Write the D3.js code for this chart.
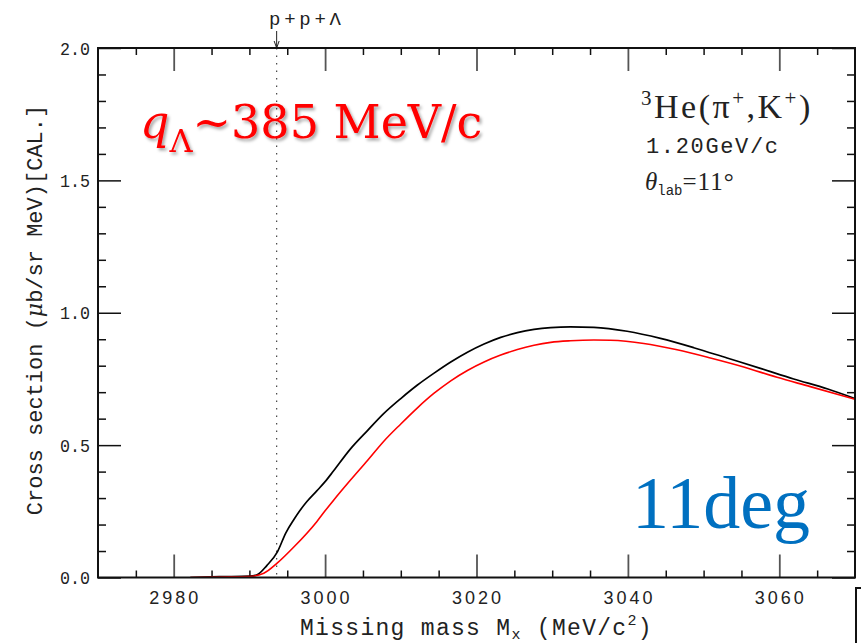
<!DOCTYPE html>
<html><head><meta charset="utf-8">
<script src="https://cdn.jsdelivr.net/npm/d3@7"></script>
<style>
html,body{margin:0;padding:0;background:#fff;}
svg{display:block;}
</style></head>
<body>
<svg id="chart" width="861" height="643"></svg>
<script>
// ---- data ----
const blackMass  = [2982.2, 2986, 2990, 2991.0, 2992.3, 2993.7, 2994.8, 2995.9, 2996.7, 2997.6, 2998.9, 3000.0, 3001.1, 3003.3, 3005.6, 3007.7, 3010.0, 3012.2, 3014.4, 3016.6, 3018.8, 3021.0, 3023.2, 3025.4, 3027.6, 3029.8, 3032.4, 3035.5, 3039.9, 3044.3, 3048.7, 3053.1, 3057.5, 3061.9, 3066.4, 3070];
const blackSigma = [0.000, 0.003, 0.005, 0.010, 0.045, 0.097, 0.168, 0.220, 0.254, 0.287, 0.327, 0.362, 0.402, 0.484, 0.555, 0.618, 0.676, 0.727, 0.772, 0.814, 0.851, 0.882, 0.907, 0.925, 0.937, 0.944, 0.947, 0.945, 0.930, 0.903, 0.868, 0.829, 0.790, 0.750, 0.712, 0.676];
const redMass    = [2982.2, 2986, 2990, 2991.9, 2993.7, 2995.9, 2998.9, 3000.0, 3001.1, 3003.3, 3005.6, 3007.7, 3010.0, 3012.2, 3014.4, 3016.6, 3018.8, 3021.0, 3023.2, 3025.4, 3027.6, 3029.8, 3032.4, 3035.5, 3037.7, 3042.1, 3046.5, 3050.9, 3055.3, 3059.7, 3064.1, 3070];
const redSigma   = [0.000, 0.002, 0.004, 0.016, 0.055, 0.116, 0.211, 0.252, 0.291, 0.366, 0.442, 0.513, 0.580, 0.641, 0.696, 0.743, 0.782, 0.814, 0.840, 0.861, 0.877, 0.888, 0.894, 0.897, 0.896, 0.884, 0.860, 0.829, 0.795, 0.756, 0.721, 0.673];
const xMajorTicks = [2980, 3000, 3020, 3040, 3060];
const xMinorTicks = [2975, 2985, 2990, 2995, 3005, 3010, 3015, 3025, 3030, 3035, 3045, 3050, 3055, 3065];
const yMajorTicks = [0.0, 0.5, 1.0, 1.5, 2.0];
const yMinorTicks = [0.1,0.2,0.3,0.4,0.6,0.7,0.8,0.9,1.1,1.2,1.3,1.4,1.6,1.7,1.8,1.9];
const threshold = 2993.6;
const thresholdLabel = "p+p+Λ";

// ---- layout ----
const L = 98, R = 855, T = 48, B = 577.5;
const svg = d3.select("#chart");
const x = d3.scaleLinear().domain([2970, 3070]).range([L, R]);
const y = d3.scaleLinear().domain([0, 2]).range([B, T]);

const defs = svg.append("defs");
const f = defs.append("filter").attr("id","sh").attr("x","-10%").attr("y","-10%").attr("width","130%").attr("height","140%");
f.append("feDropShadow").attr("dx",2).attr("dy",2.5).attr("stdDeviation",1.5).attr("flood-color","#000").attr("flood-opacity",0.35);
defs.append("clipPath").attr("id","clip").append("rect").attr("x",L).attr("y",T).attr("width",R-L).attr("height",B-T);

const mono = "'Liberation Mono', 'DejaVu Sans Mono', monospace";

function tickGroup(axisFn, scale, vals, size, tr, color, w) {
  const g = svg.append("g").attr("transform", tr)
    .call(axisFn(scale).tickValues(vals).tickSize(size).tickFormat(""));
  g.select(".domain").remove();
  g.selectAll(".tick line").attr("stroke", color).attr("stroke-width", w);
  return g;
}
tickGroup(d3.axisBottom, x, xMinorTicks, -7, `translate(0,${B})`, "#111", 1.5);
tickGroup(d3.axisTop, x, xMinorTicks, -7, `translate(0,${T})`, "#111", 1.5);
tickGroup(d3.axisBottom, x, xMajorTicks, -23, `translate(0,${B})`, "#555", 1.8);
tickGroup(d3.axisTop, x, xMajorTicks, -23, `translate(0,${T})`, "#555", 1.8);
tickGroup(d3.axisLeft, y, yMinorTicks, -8, `translate(${L},0)`, "#111", 1.5);
tickGroup(d3.axisRight, y, yMinorTicks, -8, `translate(${R},0)`, "#111", 1.5);
tickGroup(d3.axisLeft, y, yMajorTicks, -23, `translate(${L},0)`, "#111", 1.5);
tickGroup(d3.axisRight, y, yMajorTicks, -23, `translate(${R},0)`, "#111", 1.5);

// tick labels
svg.append("g").selectAll("text").data(xMajorTicks).join("text")
  .attr("x", d => x(d)).attr("y", 604).attr("text-anchor","middle")
  .attr("font-family","'Liberation Sans', Arial, sans-serif").attr("font-size",18)
  .attr("textLength",49).attr("lengthAdjust","spacing")
  .attr("fill","#222").text(d => d);
svg.append("g").selectAll("text").data(yMajorTicks).join("text")
  .attr("x", 90).attr("y", d => y(d) + 6.5).attr("text-anchor","end")
  .attr("font-family",mono).attr("font-size",19)
  .attr("textLength",30).attr("lengthAdjust","spacingAndGlyphs")
  .attr("fill","#222").text(d => d.toFixed(1));

// threshold line
svg.append("line").attr("x1",x(threshold)).attr("x2",x(threshold)).attr("y1",T).attr("y2",B)
  .attr("stroke","#444").attr("stroke-width",1.2).attr("stroke-dasharray","1.5,6");
svg.append("line").attr("x1",x(threshold)).attr("x2",x(threshold)).attr("y1",31).attr("y2",T)
  .attr("stroke","#222").attr("stroke-width",1);
svg.append("path").attr("d",`M${x(threshold)-2.5},${T-7} L${x(threshold)},${T} L${x(threshold)+2.5},${T-7}`)
  .attr("fill","none").attr("stroke","#222").attr("stroke-width",1);
svg.append("text").attr("x",269).attr("y",25).attr("font-family",mono).attr("font-size",19)
  .attr("textLength",72).attr("lengthAdjust","spacing").attr("fill","#222").text(thresholdLabel);

// curves
const line = d3.line().x(d => x(d[0])).y(d => y(d[1])).curve(d3.curveMonotoneX);
const gc = svg.append("g").attr("clip-path","url(#clip)");
gc.append("path").datum(d3.zip(blackMass, blackSigma)).attr("d",line)
  .attr("fill","none").attr("stroke","#000").attr("stroke-width",1.7);
gc.append("path").datum(d3.zip(redMass, redSigma)).attr("d",line)
  .attr("fill","none").attr("stroke","#ff0000").attr("stroke-width",1.6);

// frame
svg.append("rect").attr("x",L).attr("y",T).attr("width",R-L).attr("height",B-T)
  .attr("fill","none").attr("stroke","#111").attr("stroke-width",2);

// bracket artifact bottom-right
svg.append("path").attr("d","M861,588 L856,588 L856,643").attr("fill","none").attr("stroke","#111").attr("stroke-width",2);

// axis titles
const xt = svg.append("text").attr("x",300).attr("y",635).attr("font-family",mono).attr("font-size",23)
  .attr("letter-spacing",1.3).attr("fill","#222");
xt.append("tspan").text("Missing mass M");
xt.append("tspan").attr("dy",4).attr("font-size",15).text("x");
xt.append("tspan").attr("dy",-4).text(" (MeV/c");
xt.append("tspan").attr("dy",-10).attr("font-size",15).text("2");
xt.append("tspan").attr("dy",10).text(")");

const yt = svg.append("text").attr("transform","translate(42,310) rotate(-90)").attr("text-anchor","middle")
  .attr("font-family",mono).attr("font-size",22).attr("fill","#222");
yt.append("tspan").text("Cross section (");
yt.append("tspan").attr("font-family","'DejaVu Serif', serif").attr("font-style","italic").text("μ");
yt.append("tspan").text("b/sr MeV)[CAL.]");

// big red annotation
const qt = svg.append("text").attr("x",140).attr("y",138).attr("font-family","'DejaVu Serif', serif")
  .attr("font-size",46).attr("fill","#ff0000").attr("filter","url(#sh)");
qt.append("tspan").attr("font-style","italic").text("q");
qt.append("tspan").attr("dy",14).attr("font-size",32).text("Λ");
qt.append("tspan").attr("dy",-14).text("~385 MeV/c");

// reaction info
const rt = svg.append("text").attr("x",641).attr("y",118).attr("font-family","'Liberation Serif', 'Times New Roman', serif")
  .attr("font-size",34).attr("letter-spacing",2.5).attr("fill","#222");
rt.append("tspan").attr("dy",-13).attr("font-size",21).text("3");
rt.append("tspan").attr("dy",13).text("He(π");
rt.append("tspan").attr("dy",-13).attr("font-size",21).text("+");
rt.append("tspan").attr("dy",13).text(",K");
rt.append("tspan").attr("dy",-13).attr("font-size",21).text("+");
rt.append("tspan").attr("dy",13).text(")");

svg.append("text").attr("x",646).attr("y",153).attr("font-family",mono).attr("font-size",22)
  .attr("textLength",132).attr("lengthAdjust","spacing").attr("fill","#222").text("1.20GeV/c");

const tt = svg.append("text").attr("x",645).attr("y",190).attr("font-family","'Liberation Serif', serif")
  .attr("font-size",25).attr("fill","#222");
tt.append("tspan").attr("font-style","italic").text("θ");
tt.append("tspan").attr("dy",5).attr("font-family",mono).attr("font-size",14).text("lab");
tt.append("tspan").attr("dy",-5).attr("letter-spacing",1).text("=11°");

svg.append("text").attr("x",632).attr("y",528).attr("font-family","'Liberation Serif', 'Times New Roman', serif")
  .attr("font-size",74).attr("fill","#0070c0").text("11deg");
</script>
</body></html>
